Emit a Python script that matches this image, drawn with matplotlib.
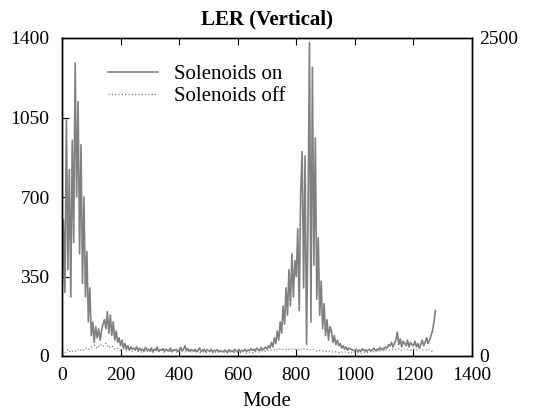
import numpy as np
import matplotlib
matplotlib.use("Agg")
import matplotlib.pyplot as plt

plt.rcParams['font.family'] = ['Liberation Serif', 'DejaVu Serif']
plt.rcParams['font.size'] = 15

# Solenoids on, one value every 5 modes (left axis)
on_modes = np.arange(0, 1280, 5)
on_vals = [
    220, 600, 280, 1040, 380, 820, 260, 950, 500, 1290,
    700, 1120, 450, 930, 320, 700, 260, 460, 150, 300,
    90, 150, 60, 130, 80, 120, 70, 110, 140, 160,
    120, 195, 100, 180, 90, 150, 70, 110, 60, 80,
    45, 70, 35, 55, 30, 45, 25, 40, 30, 35,
    28, 40, 22, 35, 25, 30, 20, 38, 26, 30,
    22, 35, 18, 30, 24, 40, 20, 28, 25, 33,
    20, 30, 26, 22, 35, 18, 28, 24, 30, 20,
    25, 38, 22, 30, 45, 24, 32, 20, 28, 26,
    22, 30, 18, 26, 35, 20, 25, 30, 18, 28,
    24, 20, 30, 16, 25, 22, 28, 18, 24, 20,
    18, 26, 22, 15, 28, 20, 24, 18, 30, 22,
    20, 28, 18, 25, 22, 30, 20, 26, 24, 32,
    25, 30, 22, 35, 28, 24, 38, 26, 32, 40,
    30, 45, 35, 60, 40, 80, 55, 110, 70, 150,
    100, 220, 140, 300, 180, 380, 220, 450, 260, 420,
    350, 560, 200, 720, 900, 300, 880, 50, 600, 1380,
    150, 1270, 400, 960, 250, 520, 180, 330, 120, 230,
    90, 160, 70, 130, 110, 60, 90, 50, 70, 45,
    55, 35, 45, 30, 40, 25, 35, 30, 28, 25,
    22, 30, 18, 26, 20, 32, 24, 28, 20, 25,
    30, 22, 28, 35, 24, 30, 26, 38, 28, 34,
    30, 40, 35, 50, 45, 60, 40, 55, 70, 105,
    50, 75, 40, 65, 55, 45, 70, 40, 60, 50,
    45, 65, 40, 55, 35, 50, 70, 45, 60, 80,
    55, 70, 90, 110, 150, 200,
]

# Solenoids off, one value every 10 modes (right axis)
off_modes = np.arange(0, 1280, 10)
off_vals = [
    40, 25, 50, 30, 45, 35, 55, 40, 60, 50,
    70, 85, 60, 90, 75, 100, 65, 80, 55, 60,
    45, 55, 40, 50, 35, 45, 40, 30, 45, 35,
    40, 30, 45, 35, 50, 30, 40, 35, 45, 30,
    35, 45, 30, 40, 35, 30, 45, 25, 35, 30,
    30, 40, 25, 35, 30, 40, 25, 35, 30, 25,
    30, 25, 35, 20, 30, 25, 35, 30, 40, 35,
    45, 40, 55, 45, 60, 50, 55, 45, 60, 50,
    55, 45, 60, 50, 55, 45, 50, 40, 45, 40,
    35, 40, 30, 35, 30, 25, 35, 30, 25, 30,
    25, 30, 20, 30, 25, 35, 30, 40, 35, 45,
    40, 50, 45, 55, 50, 60, 45, 55, 50, 45,
    55, 45, 60, 50, 45, 55, 40, 30,
]

fig = plt.figure(figsize=(5.35, 4.16), dpi=100)
ax = fig.add_axes([62/535, 1-356/416, 410/535, 318/416])

l1, = ax.plot(on_modes, on_vals, color='#808080', lw=1.2, label='Solenoids on')
ax.set_xlim(0, 1400)
ax.set_ylim(0, 1400)
ax.set_xticks(range(0, 1401, 200))
ax.set_yticks([0, 350, 700, 1050, 1400])
ax.tick_params(direction='in', top=True, right=True, length=5, width=0.8,
               labelsize=14)
ax.tick_params(axis='x', pad=8)
ax.tick_params(axis='y', pad=9)
ax.set_xlabel('Mode', labelpad=6)
ax.set_title('LER (Vertical)', fontweight='bold', fontsize=15, pad=10)

ax2 = ax.twinx()
l2, = ax2.plot(off_modes, off_vals, color='#808080', lw=0.9, ls=':', label='Solenoids off')
ax2.set_ylim(0, 2500)
ax2.set_yticks([0, 2500])
ax2.tick_params(direction='in', length=0, labelsize=14, pad=5)

for a in (ax, ax2):
    for s in a.spines.values():
        s.set_linewidth(1.0)

ax.legend(handles=[l1, l2], loc='upper left', bbox_to_anchor=(0.066, 0.975),
          frameon=False, handlelength=2.4, handletextpad=0.8,
          labelspacing=0.1, fontsize=15)

fig.savefig('out.png', dpi=100)
